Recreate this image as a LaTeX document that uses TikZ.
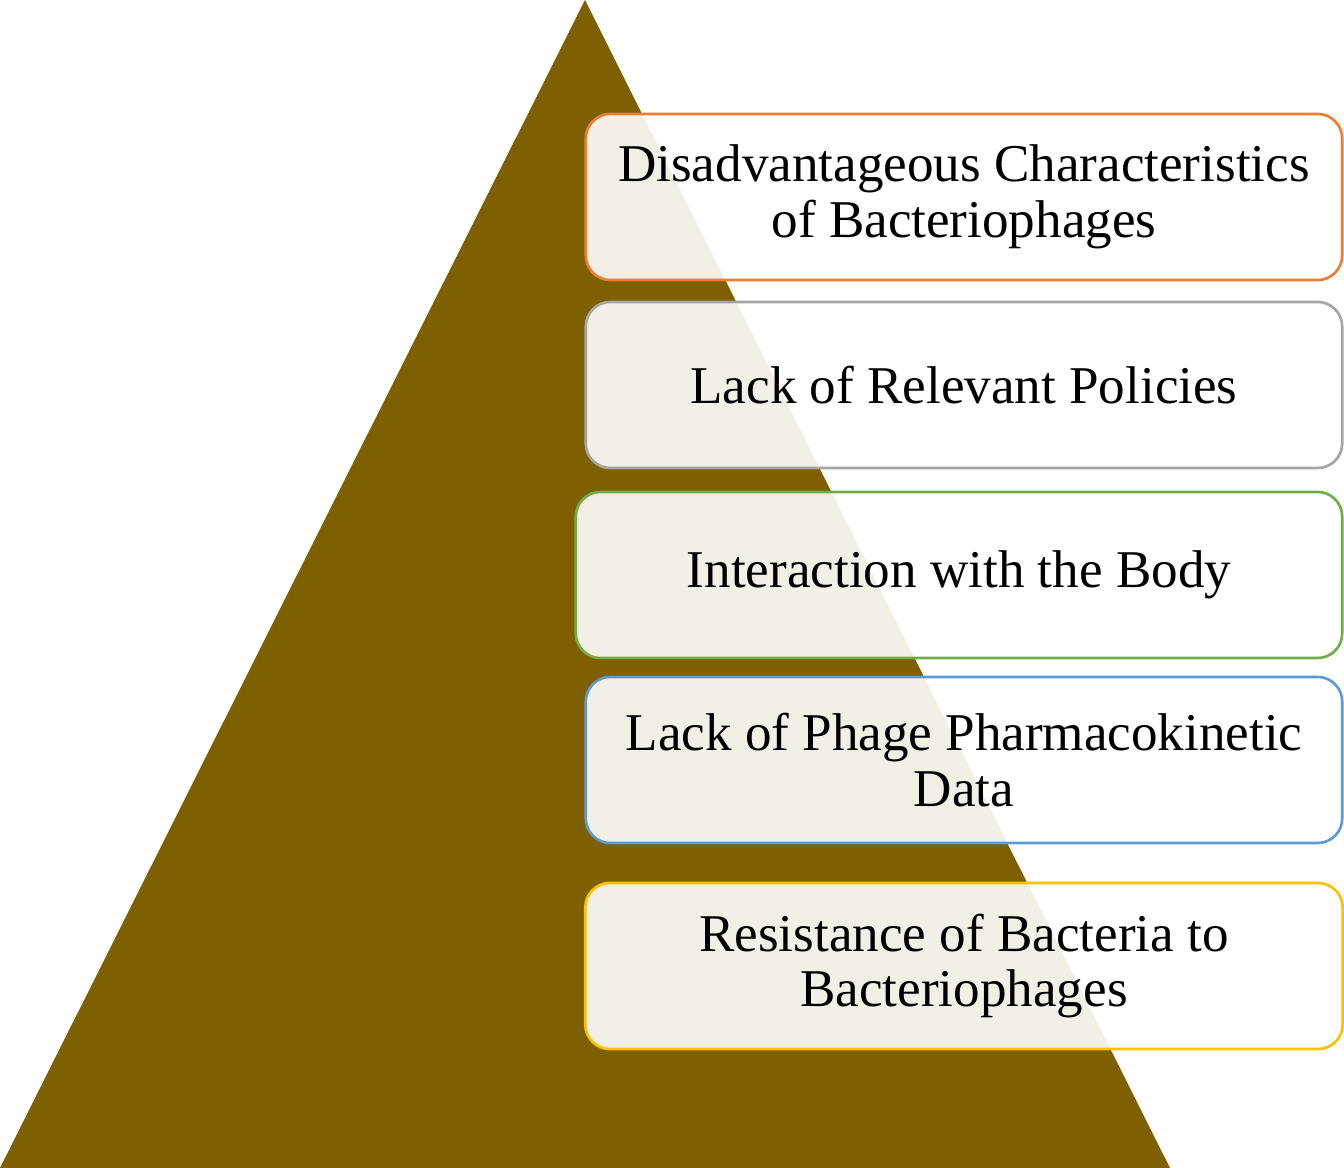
\documentclass[tikz,border=0pt]{standalone}
\usepackage{fontspec}
\setmainfont{Liberation Serif}
\usepackage{tikz}
\definecolor{altinKahve}{HTML}{7F6000}
\definecolor{turuncu}{HTML}{ED7D31}
\definecolor{gri}{HTML}{A5A5A5}
\definecolor{yesil}{HTML}{70AD47}
\definecolor{mavi}{HTML}{5B9BD5}
\definecolor{sari}{HTML}{FFC000}
\tikzset{
  basamak/.style={draw=#1, line width=0.75pt, rounded corners=7pt, fill=white,
    fill opacity=0.9, text opacity=1, minimum height=1.66cm, align=center,
    font=\fontsize{15.1}{15.8}\selectfont}
}

\begin{document}
\begin{tikzpicture}[x=0.01cm,y=-0.01cm]
\useasboundingbox (0,0) rectangle (1344,1168);
\fill[altinKahve] (585,0)--(1170,1168)--(0,1168)--cycle; % piramit
\node[basamak=turuncu,minimum width=7.56cm] (karakter) at (964,197) {Disadvantageous Characteristics\\of Bacteriophages};
\node[basamak=gri,minimum width=7.56cm] (politika) at (964,385) {Lack of Relevant Policies};
\node[basamak=yesil,minimum width=7.66cm] (etkilesim) at (959,575) {Interaction with the Body};
\node[basamak=mavi,minimum width=7.56cm] (farmako) at (964,760) {Lack of Phage Pharmacokinetic\\Data};
\node[basamak=sari,minimum width=7.57cm] (direnc) at (964,966) {Resistance of Bacteria to\\Bacteriophages};
\end{tikzpicture}
\end{document}
